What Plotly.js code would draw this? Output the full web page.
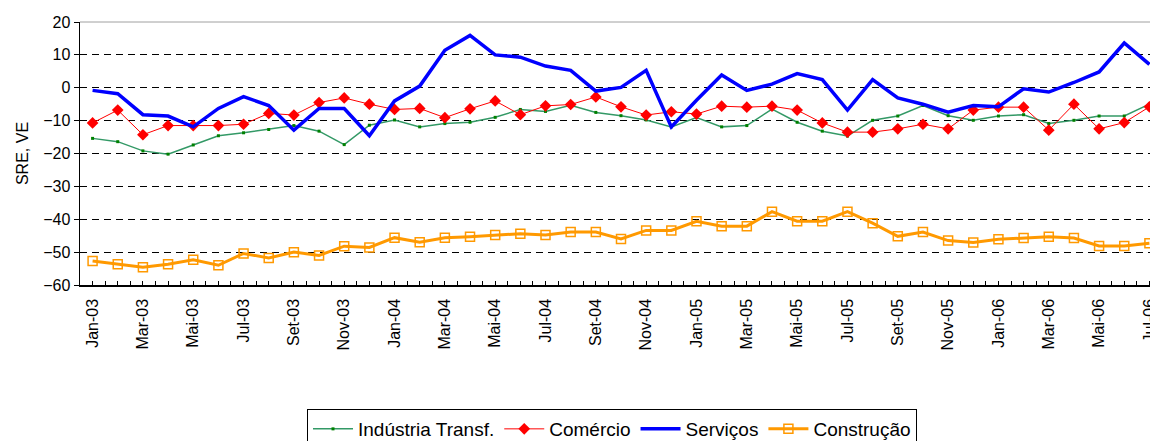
<!DOCTYPE html>
<html>
<head>
<meta charset="utf-8">
<script src="https://cdn.plot.ly/plotly-3.0.1.min.js"></script>
<style>html,body{margin:0;padding:0;background:#fff;overflow:hidden;width:1150px;height:441px;}#chart{width:1172px;height:480px;}</style>
</head>
<body>
<div id="chart"></div>
<script>
const months = ["Jan-03","Fev-03","Mar-03","Abr-03","Mai-03","Jun-03","Jul-03","Ago-03","Set-03","Out-03","Nov-03","Dez-03",
"Jan-04","Fev-04","Mar-04","Abr-04","Mai-04","Jun-04","Jul-04","Ago-04","Set-04","Out-04","Nov-04","Dez-04",
"Jan-05","Fev-05","Mar-05","Abr-05","Mai-05","Jun-05","Jul-05","Ago-05","Set-05","Out-05","Nov-05","Dez-05",
"Jan-06","Fev-06","Mar-06","Abr-06","Mai-06","Jun-06","Jul-06"];

const industria = [-15.4,-16.4,-19.2,-20.2,-17.4,-14.6,-13.7,-12.7,-11.5,-13.2,-17.3,
-11.4,-9.8,-11.9,-10.9,-10.5,-9.0,-6.6,-7.2,-5.3,-7.5,-8.5,
-9.8,-11.9,-9.1,-11.9,-11.5,-6.5,-10.5,-13.2,-14.7,-9.9,-8.6,-5.4,
-8.5,-9.9,-8.6,-8.2,-10.9,-9.9,-8.6,-8.6,-5.0];

const comercio = [-10.7,-6.8,-14.3,-11.5,-11.5,-11.5,-11.1,-7.8,-8.3,-4.5,-3.1,
-5.0,-6.6,-6.3,-9.1,-6.4,-4.0,-8.2,-5.5,-5.1,-2.8,-5.8,
-8.3,-7.3,-8.0,-5.6,-5.9,-5.6,-6.8,-10.7,-13.5,-13.5,-12.5,-11.1,
-12.5,-6.8,-5.9,-5.9,-12.9,-5.0,-12.5,-10.6,-5.8];

const servicos = [-0.8,-1.8,-8.2,-8.6,-11.9,-6.3,-2.7,-5.4,-12.9,-6.3,-6.3,
-14.6,-4.0,0.5,11.4,15.9,10.0,9.3,6.6,5.3,-1.0,0.1,
5.3,-11.9,-3.8,3.9,-0.8,1.1,4.3,2.5,-6.8,2.5,-3.1,-5.0,
-7.4,-5.4,-5.8,-0.3,-1.3,1.6,4.8,13.6,7.1];

const construcao = [-52.7,-53.7,-54.6,-53.7,-52.3,-54.0,-50.4,-51.8,-50.0,-51.0,-48.2,
-48.6,-45.6,-47.0,-45.6,-45.3,-44.8,-44.4,-44.8,-43.9,-43.9,-46.0,
-43.4,-43.4,-40.6,-42.1,-42.1,-37.7,-40.6,-40.6,-37.7,-41.2,-45.2,-43.9,
-46.5,-47.1,-46.1,-45.7,-45.3,-45.7,-48.1,-48.1,-47.3];

const seriesNames = ["Indústria Transf.","Comércio","Serviços","Construção"];
const yTicks = [-60,-50,-40,-30,-20,-10,0,10,20];

const xIdx = months.map((_, i) => i);
const labelIdx = xIdx.filter(i => i % 2 === 0);
const labelText = labelIdx.map(i => months[i]);

const FONT = "Liberation Sans, Arial, sans-serif";

const traces = [
  {x: xIdx, y: industria, name: seriesNames[0], type: "scatter", mode: "lines+markers",
   line: {color: "#339966", width: 1.5}, marker: {symbol: "square", size: 3, color: "#008000"}},
  {x: xIdx, y: comercio, name: seriesNames[1], type: "scatter", mode: "lines+markers",
   line: {color: "#ff0000", width: 1}, marker: {symbol: "diamond", size: 9, color: "#ff0000"}},
  {x: xIdx, y: servicos, name: seriesNames[2], type: "scatter", mode: "lines",
   line: {color: "#0000ff", width: 3.5}},
  {x: xIdx, y: construcao, name: seriesNames[3], type: "scatter", mode: "lines+markers",
   line: {color: "#ff9900", width: 3}, marker: {symbol: "square-open", size: 9, color: "#ff9900", line: {width: 1.5, color: "#ff9900"}}}
];

// plot area: left 80, right 1162 (beyond the 1150 viewport), top 22, bottom 285
const layout = {
  width: 1172, height: 480,
  margin: {l: 80, r: 10, t: 22, b: 195},
  paper_bgcolor: "#ffffff", plot_bgcolor: "#ffffff",
  font: {family: FONT, size: 16, color: "#000"},
  showlegend: true,
  legend: {orientation: "h", x: (307 - 80) / 1082, xanchor: "left", y: (285 - 409) / 263, yanchor: "top",
    bordercolor: "#000", borderwidth: 1, font: {family: FONT, size: 19, color: "#000"},
    itemwidth: 40, tracegroupgap: 0},
  xaxis: {
    range: [-0.5, 42.5], showgrid: false, zeroline: false,
    showline: true, linecolor: "#000", linewidth: 1.5,
    tickmode: "array", tickvals: labelIdx, ticktext: labelText, tickangle: -90,
    ticks: "inside", ticklen: 4, tickcolor: "#000", tickwidth: 1,
    ticklabelstandoff: 6, ticklabeloverflow: "allow",
    minor: {tickmode: "linear", tick0: 0, dtick: 0.5, ticks: "inside", ticklen: 4, tickcolor: "#000", tickwidth: 1, showgrid: false},
    tickfont: {family: FONT, size: 16, color: "#000"}, fixedrange: true
  },
  yaxis: {
    range: [-60, 20], tickmode: "array", tickvals: yTicks,
    showgrid: true, gridcolor: "#000", gridwidth: 1, griddash: "7px,5px",
    zeroline: false, showline: true, linecolor: "#000", linewidth: 1.5,
    ticks: "outside", ticklen: 5, tickcolor: "#000", tickwidth: 1,
    tickfont: {family: FONT, size: 16, color: "#000"},
    title: {text: "SRE, VE", font: {family: FONT, size: 16, color: "#000"}, standoff: 10},
    fixedrange: true
  },
  yaxis2: {
    range: [-60, 20], overlaying: "y", side: "left", anchor: "x",
    tickmode: "array", tickvals: yTicks, showticklabels: false,
    ticks: "inside", ticklen: 4, tickcolor: "#000", tickwidth: 1,
    showgrid: false, zeroline: false, showline: false, fixedrange: true
  },
  shapes: [
    {type: "line", xref: "paper", yref: "paper", x0: 0, x1: 1, y0: 1, y1: 1,
     line: {color: "#a0a0a0", width: 1}, layer: "above"}
  ]
};

Plotly.newPlot("chart", traces, layout, {displayModeBar: false, staticPlot: true});
</script>
</body>
</html>
